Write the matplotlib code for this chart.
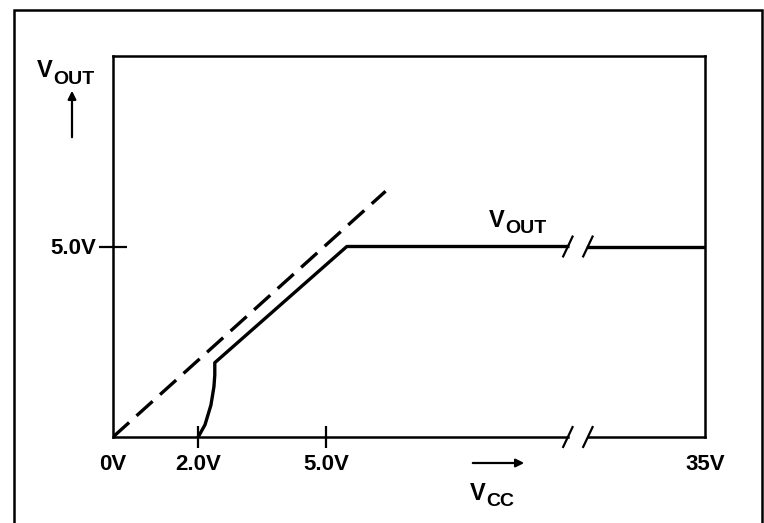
import matplotlib
matplotlib.use("Agg")
import matplotlib.pyplot as plt
from matplotlib.patches import Rectangle

plt.rcParams['font.family'] = ['Liberation Sans Narrow', 'Liberation Sans', 'DejaVu Sans']
plt.rcParams['font.weight'] = 'bold'

# axis scale: volts on the linear part, 35V squeezed in after the break
x_ticks = [0, 2.0, 5.0, 13.9]
x_ticklabels = ['0V', '2.0V', '5.0V', '35V']
y_ticks = [5.0]
y_ticklabels = ['5.0V']
x_break = [10.68, 11.15]

# dashed reference line (Vout = Vcc)
ref_x = [0, 6.4]
ref_y = [0, 6.45]

# start-up curve, ramp and regulated output
curve_x = [2.0, 2.16, 2.30, 2.37, 2.39, 2.39]
curve_y = [0, 0.32, 0.84, 1.32, 1.63, 1.95]
ramp_x = [2.39, 5.49, x_break[0]]
ramp_y = [1.95, 5.0, 5.0]
flat_x = [x_break[1], 13.9]
flat_y = [5.0, 5.0]

fig = plt.figure(figsize=(7.64, 5.23), dpi=100)
ax = fig.add_axes([113/764, 1-437/523, 592/764, 381/523])
ax.set_xlim(0, 13.9)
ax.set_ylim(0, 10.0)

lw = 2.4
ax.plot(ref_x, ref_y, color='black', lw=lw, dashes=(6.5, 3), solid_capstyle='butt')
ax.plot(curve_x + ramp_x[1:], curve_y + ramp_y[1:], color='black', lw=lw)
ax.plot(flat_x, flat_y, color='black', lw=lw)

# bottom spine drawn by hand so it can be broken
ax.spines['bottom'].set_visible(False)
for s in ['left', 'top', 'right']:
    ax.spines[s].set_linewidth(1.8)
ax.plot([0, x_break[0]], [0, 0], color='black', lw=1.8, clip_on=False)
ax.plot([x_break[1], 13.9], [0, 0], color='black', lw=1.8, clip_on=False)

# break marks "//"
dx, dy = 0.11, 0.26
for yb in [0, 5.0]:
    for xb in x_break:
        ax.plot([xb - dx, xb + dx], [yb - dy, yb + dy], color='black', lw=1.6, clip_on=False)

ax.set_xticks(x_ticks)
ax.set_xticklabels(x_ticklabels)
ax.set_yticks(y_ticks)
ax.set_yticklabels(y_ticklabels)
ax.tick_params(axis='x', direction='inout', length=16, width=1.6, pad=4, labelsize=16)
ax.tick_params(axis='y', direction='inout', length=20, width=1.6, pad=2, labelsize=16)
ax.xaxis.get_major_ticks()[0].tick1line.set_visible(False)
ax.xaxis.get_major_ticks()[-1].tick1line.set_visible(False)

# V_OUT label on the line
fig.text(489/764, 1-227/523, 'V', fontsize=17, ha='left', va='baseline')
fig.text(505/764, 1-233/523, 'OUT', fontsize=14, ha='left', va='baseline')

# axis names with arrows
fig.text(37/764, 1-77/523, 'V', fontsize=17, ha='left', va='baseline')
fig.text(53/764, 1-84/523, 'OUT', fontsize=14, ha='left', va='baseline')
fig.text(470/764, 1-500/523, 'V', fontsize=17, ha='left', va='baseline')
fig.text(486/764, 1-506/523, 'CC', fontsize=14, ha='left', va='baseline')
ax.annotate('', xy=(72/764, 1-88/523), xytext=(72/764, 1-140/523), xycoords='figure fraction',
            arrowprops=dict(arrowstyle='-|>', color='black', lw=1.6, mutation_scale=12))
ax.annotate('', xy=(527/764, 1-463/523), xytext=(470/764, 1-463/523), xycoords='figure fraction',
            arrowprops=dict(arrowstyle='-|>', color='black', lw=1.6, mutation_scale=12))

# outer frame
fig.patches.append(Rectangle((14/764, -0.02), 748/764, 1.02 - 10/523, transform=fig.transFigure,
                             fill=False, edgecolor='black', lw=1.8))

fig.savefig('out.png', dpi=100)
